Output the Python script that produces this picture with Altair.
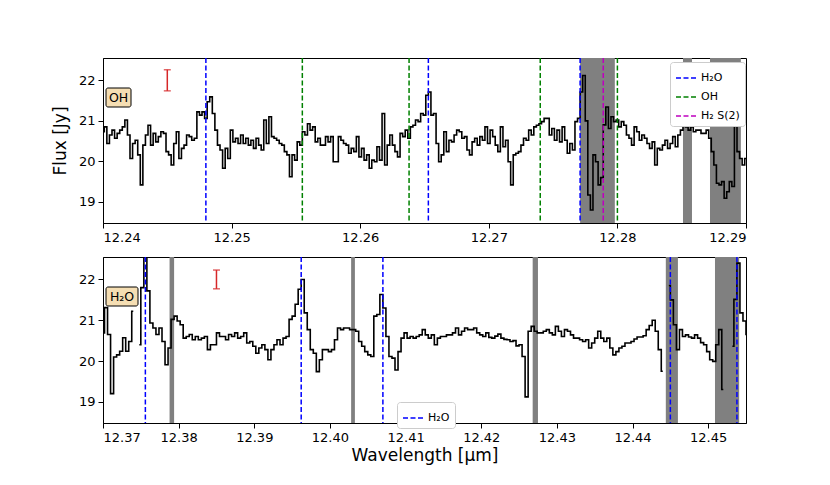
import altair as alt
import pandas as pd

# ---------------- data ----------------
top_start = 12.24
top_step = 0.0002
top_flux = [
    20.73, 20.85, 20.44, 20.65, 20.77, 20.57, 20.69, 20.77, 20.85, 21.02,
    20.65, 20.07, 20.44, 20.52, 20.16, 19.42, 20.40, 20.65, 20.89, 20.40,
    20.69, 20.48, 20.61, 20.73, 20.69, 20.24, 20.16, 19.91, 20.44, 20.73,
    20.07, 20.32, 20.40, 20.65, 20.61, 20.52, 20.57, 21.22, 21.14, 21.22,
    21.06, 21.47, 21.59, 21.18, 20.77, 20.40, 20.28, 19.83, 20.32, 20.07,
    20.77, 20.48, 20.57, 20.44, 20.65, 20.44, 20.57, 20.40, 20.52, 20.32,
    20.57, 20.40, 20.28,
    21.02, 20.44, 21.10, 20.61, 20.57, 20.52, 20.44,
    20.40, 20.24, 20.16, 19.62, 20.16, 20.03, 20.48, 20.40, 20.73, 20.65,
    20.93, 20.77, 20.85, 20.48, 20.57, 20.40, 20.40, 20.61, 20.48, 20.61,
    19.99, 19.99, 20.61, 20.52, 20.44, 20.40, 20.20, 20.32, 20.24, 20.61,
    20.11, 20.32, 20.03, 20.16, 19.83, 20.03, 19.99, 20.36, 20.03, 21.18,
    19.91, 20.40, 20.65, 20.40, 20.24, 20.11, 20.69, 20.61, 20.77, 20.57,
    20.85, 20.89, 21.02, 20.98, 21.18, 21.14,
    21.63, 21.71, 21.14, 21.18,
    20.44, 19.99, 20.16, 20.73, 20.24, 20.52, 20.48, 20.65, 20.77, 20.73,
    20.57, 20.61, 20.28, 20.16, 20.48, 20.57, 20.40, 20.61, 20.52, 20.85,
    20.44, 20.77, 20.61, 20.40, 20.24, 20.85, 20.36, 20.52, 19.99, 19.42,
    20.16, 20.20, 20.24, 20.40, 20.57, 20.52, 20.77, 20.65, 20.85, 20.89,
    20.93, 20.98, 21.06, 21.06, 20.65, 20.81, 20.52, 20.77, 20.48, 20.85,
    20.52, 20.20, 20.44, 20.28, 20.98, 21.06, 21.71, 22.12, 21.00,
    19.17, 18.80, 20.16, 19.99, 19.42, 19.60, 20.90, 21.34, 20.81, 21.10, 20.98,
    21.02, 20.85, 20.98, 20.89, 20.65, 20.57, 20.40, 20.85, 20.73, 20.52,
    20.65, 20.57, 20.44, 20.32, 20.48, 19.91, 20.32, 20.28, 20.40, 20.52,
    20.32, 20.44, 20.61, 20.36, 20.65, 20.77, 21.06, 20.85, 20.77, 20.85,
    20.73, 20.77, 20.77, 20.69, 20.69, 20.77, 20.57, 20.24, 19.91, 19.46,
    19.42, 19.50, 19.09, 19.25, 19.50, 19.38, 21.06, 20.24, 20.07, 19.91, 20.07,
]

bot_start = 12.37
bot_step = 0.0004
bot_flux = [
    20.69, 21.31, 20.65, 19.20, 20.10, 20.15, 20.24, 20.57, 20.24, 20.48, 21.22,
    None,
    20.40, 21.80, 22.90, 21.72, 20.93, 20.81, 20.65, 20.81, 20.48,
    19.91, 20.32, 21.02, 21.10, 20.98, 20.89, 20.56, 20.60, 20.65, 20.52,
    20.60, 20.52, 20.56, 20.60, 20.28, 20.40, 20.40, 20.69, 20.60, 20.60,
    20.52, 20.65, 20.60, 20.69, 20.56, 20.60, 20.69, 20.44, 20.48, 20.36,
    20.19, 20.32, 20.40, 20.28, 20.03, 20.28, 20.40, 20.52, 20.40, 20.56,
    20.60, 21.02, 21.10, 21.39, 21.76, 22.00, 21.18, 20.77, 20.28, 20.19,
    19.74, 20.03, 20.28, 20.28, 20.23, 20.28, 20.52, 20.81, 20.77, 20.81,
    20.81, 20.77, 20.77, 20.73, 20.48, 20.36, 20.23, 20.15, 20.11, 21.10,
    21.14, 21.63, 21.30, 20.60, 20.11, 20.07, 19.78, 20.23, 20.56, 20.69,
    20.56, 20.60, 20.56, 20.60, 20.64, 20.77, 20.64, 20.56, 20.64, 20.40,
    20.56, 20.60, 20.60, 20.64, 20.64, 20.69, 20.81, 20.64, 20.73, 20.81,
    20.77, 20.77, 20.81, 20.69, 20.64, 20.60, 20.69, 20.58, 20.56, 20.61,
    20.66, 20.56, 20.53, 20.52, 20.48, 20.50, 20.37, 20.40, 20.11, 19.12,
    20.73, 20.85, 20.73, 20.69, 20.69, 20.73, 20.77, 20.69, 20.64, 20.85,
    20.73, 20.60, 20.77, 20.73, 20.64, 20.56, 20.56, 20.52, 20.48, 20.52, 20.32,
    20.44, 20.56, 20.73, 20.56, 20.48, 20.56, 20.32, 20.15, 20.23, 20.32, 20.36,
    20.44, 20.44, 20.48, 20.54, 20.59, 20.59, 20.62, 20.77, 20.87, 21.00, 20.73, 20.28, 19.75,
    None,
    21.85, 21.50, 20.89, 20.28, 20.77, 20.60, 20.64, 20.59, 20.56, 20.64, 20.56,
    20.45, 20.40, 20.23, 20.03, 19.99, 20.40, 20.77, 19.30,
    None, None,
    20.36, 21.51, 22.40, 21.18, 20.98, 20.65,
]

top_shade_lo = [12.2771, 12.2851, 12.2872]
top_shade_hi = [12.2798, 12.2858, 12.2896]
bot_shade_lo = [12.3788, 12.4028, 12.4268, 12.4444, 12.4509]
bot_shade_hi = [12.3794, 12.4033, 12.4275, 12.4460, 12.4541]

top_line_w = [12.2480, 12.2653, 12.2771, 12.2555, 12.2638, 12.2740, 12.2800, 12.2789]
top_line_species = ["H₂O", "H₂O", "H₂O", "OH", "OH", "OH", "OH", "H₂ S(2)"]
bot_line_w = [12.3756, 12.3962, 12.4070, 12.4450, 12.4538]
bot_line_species = ["H₂O"] * 5

species_names = ["H₂O", "OH", "H₂ S(2)"]
species_colors = ["#0000ff", "#008000", "#bf00bf"]

top_err_w, top_err_lo, top_err_hi = [12.2450], [21.74], [22.26]
bot_err_w, bot_err_lo, bot_err_hi = [12.3850], [21.77], [22.23]

top_xticks = [12.24, 12.25, 12.26, 12.27, 12.28, 12.29]
bot_xticks = [12.37, 12.38, 12.39, 12.40, 12.41, 12.42, 12.43, 12.44, 12.45]
yticks = [19, 20, 21, 22]

FONT = "DejaVu Sans"


def spectrum_df(start, step, flux):
    rows = []
    seg = 0
    for i, v in enumerate(flux):
        if v is None:
            seg += 1
            continue
        rows.append({"w": round(start + i * step, 5), "f": v, "seg": seg})
    return pd.DataFrame(rows)


def panel(xdom, xticks, spec, slo, shi, lw, lsp, ew, elo, ehi, label,
          box_w, legend_xy, sp_domain, sp_range, xtitle, ytitle, height):
    W = 643
    xs = alt.Scale(domain=xdom, nice=False, zero=False)
    ys = alt.Scale(domain=[18.48, 22.55], nice=False, zero=False)
    xa = alt.Axis(values=xticks, format=".2f", title=xtitle, grid=False)
    ya = alt.Axis(values=yticks, format="d", title=ytitle, grid=False, titlePadding=9)

    shade = alt.Chart(pd.DataFrame({"lo": slo, "hi": shi})).mark_rect(
        color="#808080", clip=True
    ).encode(x=alt.X("lo:Q", scale=xs, axis=xa), x2="hi:Q")

    line = alt.Chart(spec).mark_line(
        color="black", strokeWidth=1.6, interpolate="step", clip=True
    ).encode(
        x=alt.X("w:Q", scale=xs, axis=xa),
        y=alt.Y("f:Q", scale=ys, axis=ya),
        detail="seg:N",
    )

    vlines = alt.Chart(pd.DataFrame({"w": lw, "species": lsp})).mark_rule(
        strokeDash=[5, 2.5], strokeWidth=1.5
    ).encode(
        x=alt.X("w:Q", scale=xs, axis=xa),
        color=alt.Color(
            "species:N",
            scale=alt.Scale(domain=sp_domain, range=sp_range),
            legend=alt.Legend(
                orient="none", legendX=legend_xy[0], legendY=legend_xy[1],
                title=None, symbolType="stroke", symbolDash=[5, 2.5],
                symbolStrokeWidth=1.5, symbolSize=400, labelFontSize=11,
                labelFont=FONT, rowPadding=3, padding=5,
                strokeColor="#cccccc", fillColor="white", cornerRadius=3,
            ),
        ),
    )

    edf = pd.DataFrame({"w": ew, "lo": elo, "hi": ehi})
    err = alt.Chart(edf).mark_rule(color="#d62728", strokeWidth=1.5).encode(
        x=alt.X("w:Q", scale=xs, axis=xa),
        y=alt.Y("lo:Q", scale=ys, axis=ya), y2="hi:Q",
    )
    cap_lo = alt.Chart(edf).mark_tick(
        color="#d62728", orient="horizontal", size=7, thickness=1.5
    ).encode(x=alt.X("w:Q", scale=xs, axis=xa), y=alt.Y("lo:Q", scale=ys, axis=ya))
    cap_hi = alt.Chart(edf).mark_tick(
        color="#d62728", orient="horizontal", size=7, thickness=1.5
    ).encode(x=alt.X("w:Q", scale=xs, axis=xa), y=alt.Y("hi:Q", scale=ys, axis=ya))

    ldf = pd.DataFrame({"label": [label]})
    box = alt.Chart(ldf).mark_rect(
        fill="#f5deb3", stroke="black", strokeWidth=1, cornerRadius=2
    ).encode(x=alt.value(3), x2=alt.value(3 + box_w), y=alt.value(30), y2=alt.value(49))
    txt = alt.Chart(ldf).mark_text(
        font=FONT, fontSize=12.5, color="black", align="center", baseline="middle"
    ).encode(text="label:N", x=alt.value(3 + box_w / 2), y=alt.value(40))

    return alt.layer(shade, line, vlines, err, cap_lo, cap_hi, box, txt).properties(
        width=W, height=height
    )


top = panel([12.24, 12.29], top_xticks, spectrum_df(top_start, top_step, top_flux),
            top_shade_lo, top_shade_hi, top_line_w, top_line_species,
            top_err_w, top_err_lo, top_err_hi, "OH", 25, (567, 4),
            species_names, species_colors, "", "Flux [Jy]", 165)
bottom = panel([12.37, 12.455], bot_xticks, spectrum_df(bot_start, bot_step, bot_flux),
               bot_shade_lo, bot_shade_hi, bot_line_w, bot_line_species,
               bot_err_w, bot_err_lo, bot_err_hi, "H₂O", 32, (294, 145),
               species_names[:1], species_colors[:1], "Wavelength [μm]", "", 166)

chart = alt.vconcat(top, bottom, spacing=34, bounds="flush").resolve_scale(
    x="independent", y="independent", color="independent"
).resolve_legend(color="independent").properties(
    padding={"left": 42, "top": 48, "right": 5, "bottom": 5}
).configure_axis(
    labelFont=FONT, titleFont=FONT, labelFontSize=13, titleFontSize=17,
    titleFontWeight="normal", domainColor="black", tickColor="black",
    labelColor="black", titleColor="black", tickSize=5, labelPadding=3,
    domainWidth=1, tickWidth=1, titlePadding=3,
).configure_view(stroke="black", strokeWidth=1)

chart.save("out.html", embed_options={"renderer": "svg", "actions": False})
